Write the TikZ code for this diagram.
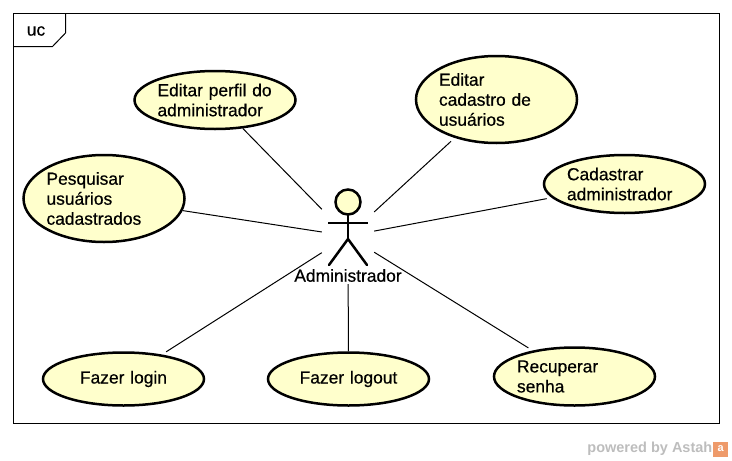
\documentclass[tikz,border=0pt]{standalone}
\usepackage{fontspec}
\setmainfont{Liberation Sans}
\newfontfamily\ucfont[FakeBold=0.5]{Liberation Sans}
\usepackage{xcolor}
\usetikzlibrary{shapes.geometric}
\definecolor{usecasefill}{HTML}{FFFFCC}
\definecolor{astahgray}{HTML}{BDBDBD}
\definecolor{astahorange}{HTML}{EE9A6A}
\tikzset{
  usecase/.style={ellipse,draw=black,line width=2.5pt,fill=usecasefill,minimum width=161,minimum height=#1,inner ysep=0pt,inner xsep=-2pt,text width=115,align=left},
  usecase/.default=58,
  actorbox/.style={rectangle,minimum width=52,minimum height=96,inner sep=0pt},
  assoc/.style={line width=1pt,black},
  stick/.style={line width=2.5pt,black},
}
\begin{document}
\begin{tikzpicture}[every node/.style={font=\ucfont\fontsize{17.4}{20}\selectfont},x=1pt,y=-1pt]
  \useasboundingbox (0,0) rectangle (732,461);
  % frame and tab
  \draw[line width=1pt] (13.5,13.5) rectangle (719.5,423.5);
  \draw[line width=1pt] (65.5,13.5) -- (65.5,33) -- (52.5,46.5) -- (13.5,46.5);
  \node (frametag) at (36,31) {uc};
  % use cases
  \node[usecase] (editarperfil) at (215,100) {Editar perfil do\\administrador};
  \node[usecase=87] (editarcadastro) at (496.5,99.5) {Editar\\cadastro de\\usuários};
  \node[usecase] (cadastrar) at (624.5,184) {Cadastrar\\administrador};
  \node[usecase=87] (pesquisar) at (104,198.5) {Pesquisar\\usuários\\cadastrados};
  \node[usecase=53,align=center] (login) at (123.5,379) {Fazer login};
  \node[usecase=53,align=center] (logout) at (348.5,379) {Fazer logout};
  \node[usecase] (recuperar) at (574.5,376.5) {Recuperar\\senha};
  % actor
  \node[actorbox] (admin) at (348,236) {};
  \draw[stick,fill=usecasefill] (348,202) circle (12.5);
  \draw[stick] (348,215) -- (348,239) (328,223) -- (368,223);
  \draw[stick,line cap=round] (329,265) -- (348,239) -- (367,265);
  \node (adminlabel) at (348,275.5) {Administrador};
  % associations
  \foreach \uc in {editarperfil,pesquisar,logout}
    \draw[assoc] (admin) -- (\uc);
  \foreach \uc in {editarcadastro,cadastrar,login,recuperar}
    \draw[assoc,shorten >=5] (admin) -- (\uc);
  % watermark
  \node[anchor=east,inner sep=0pt,text=astahgray,font=\rmfamily\fontsize{14.5}{16}\selectfont\bfseries] (powered) at (712.5,449) {powered by Astah};
  \node[anchor=west,fill=astahorange,minimum size=15,inner sep=0pt,text=white,font=\rmfamily\fontsize{11}{11}\selectfont\bfseries] (astahicon) at (713,449) {a};
\end{tikzpicture}
\end{document}
